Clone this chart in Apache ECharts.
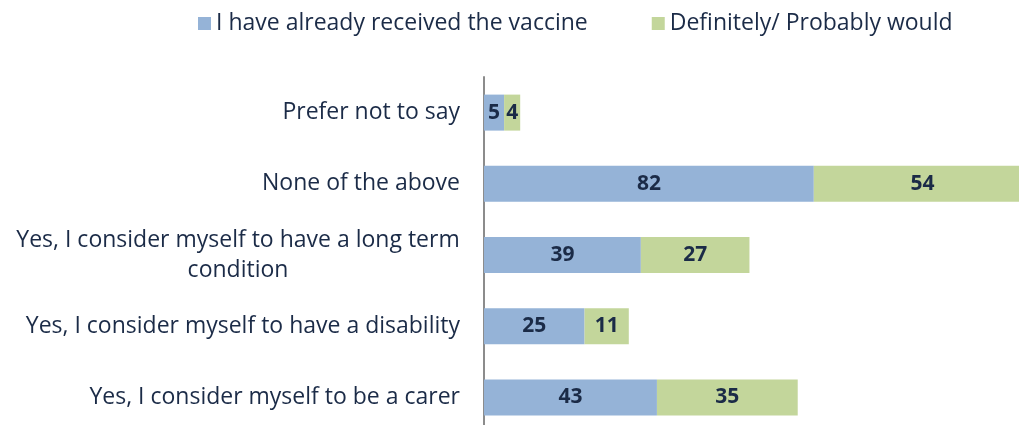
<!DOCTYPE html>
<html>
<head>
<meta charset="utf-8">
<script src="https://cdn.jsdelivr.net/npm/echarts@6/dist/echarts.min.js"></script>
<style>
  html, body { margin: 0; padding: 0; background: #fff; }
  #chart { width: 1019px; height: 425px; }
</style>
</head>
<body>
<div id="chart"></div>
<script>
// categories listed bottom to top
const categories = [
  'Yes, I consider myself to be a carer',
  'Yes, I consider myself to have a disability',
  'Yes, I consider myself to have a long term condition',
  'None of the above',
  'Prefer not to say'
];
const seriesNames = ['I have already received the vaccine', 'Definitely/ Probably would'];
const received = [43, 25, 39, 82, 5];
const wouldGet = [35, 11, 27, 54, 4];

const FONT = '"Open Sans", sans-serif';
const TEXT = '#1b2b47';
const labelSize = 23;

// width of the wrapped long label's first line, so the second line can be centred under it
const ctx = document.createElement('canvas').getContext('2d');
ctx.font = labelSize + 'px ' + FONT;
const longFirst = 'Yes, I consider myself to have a long term';
const longWidth = Math.ceil(ctx.measureText(longFirst).width);

let chart = echarts.init(document.getElementById('chart'));
chart.setOption({
    textStyle: { fontFamily: FONT },
    legend: {
        data: seriesNames,
        top: 7,
        left: 193,
        itemWidth: 13,
        itemHeight: 13,
        itemGap: 64,
        icon: 'rect',
        textStyle: { fontSize: 23, color: TEXT, fontFamily: FONT }
    },
    // the bars run past the bottom and right edge of the picture, as in the original
    grid: { left: 484, top: 77, width: 547, height: 356, containLabel: false, outerBoundsMode: 'none' },
    xAxis: {
        type: 'value',
        min: 0,
        max: 136,
        show: false
    },
    yAxis: {
        type: 'category',
        data: categories,
        axisTick: { show: false },
        axisLine: { show: true, lineStyle: { color: '#8c8c8c', width: 2 } },
        axisLabel: {
            margin: 24,
            fontSize: labelSize,
            color: TEXT,
            fontFamily: FONT,
            lineHeight: 30,
            formatter: function (v) {
                if (v.indexOf('long term') >= 0) {
                    return '{w|' + longFirst + '}\n{w|condition}';
                }
                return v;
            },
            rich: {
                w: { width: longWidth, align: 'center', fontSize: labelSize, color: TEXT, fontFamily: FONT, lineHeight: 30 }
            }
        }
    },
    series: [
        {
            name: seriesNames[0],
            type: 'bar',
            stack: 'total',
            data: received,
            barWidth: 36,
            itemStyle: { color: '#95b3d7' },
            label: { show: true, position: 'inside', fontSize: 21, fontWeight: 'bold', color: TEXT, fontFamily: FONT }
        },
        {
            name: seriesNames[1],
            type: 'bar',
            stack: 'total',
            data: wouldGet,
            barWidth: 36,
            itemStyle: { color: '#c3d69b' },
            label: { show: true, position: 'inside', fontSize: 21, fontWeight: 'bold', color: TEXT, fontFamily: FONT }
        }
    ]
});
</script>
</body>
</html>
